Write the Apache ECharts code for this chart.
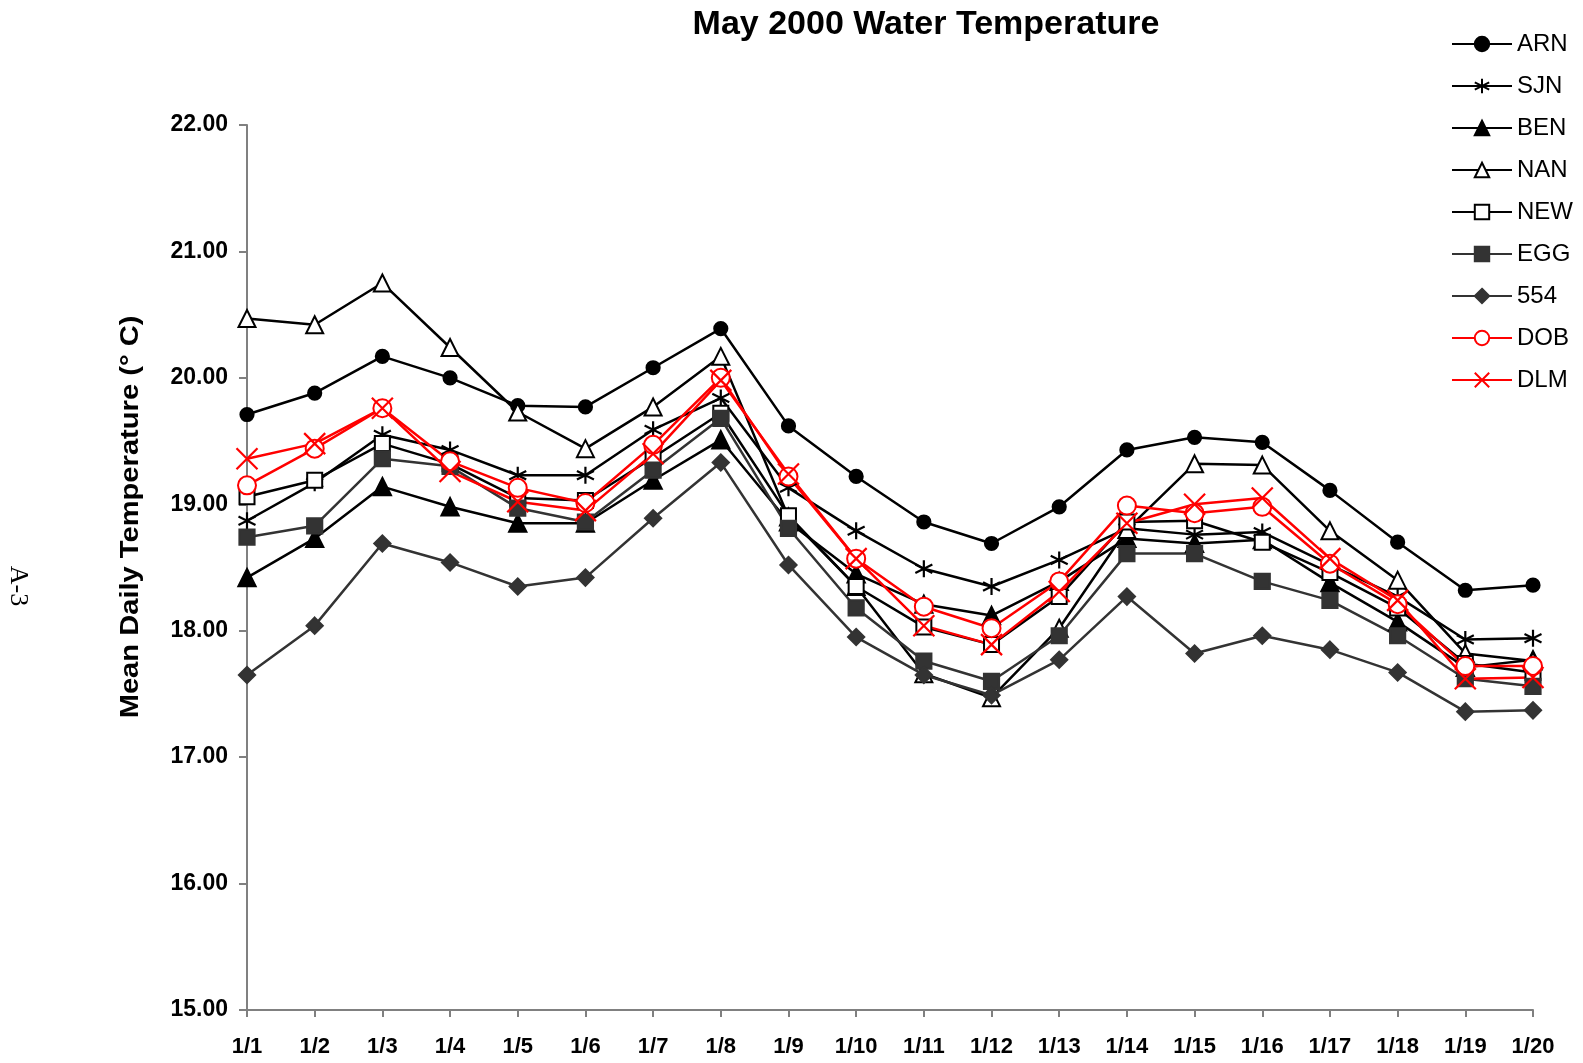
<!DOCTYPE html>
<html>
<head>
<meta charset="utf-8">
<script src="https://cdn.jsdelivr.net/npm/echarts@6/dist/echarts.min.js"></script>
<style>
  html, body { margin: 0; padding: 0; background: #fff; }
  #chart { width: 1583px; height: 1063px; }
</style>
</head>
<body>
<div id="chart"></div>
<script>
// days along the x axis
var days = ['1/1','1/2','1/3','1/4','1/5','1/6','1/7','1/8','1/9','1/10',
            '1/11','1/12','1/13','1/14','1/15','1/16','1/17','1/18','1/19','1/20'];

// mean daily temperature per station (deg C)
var arn = [19.71, 19.88, 20.17, 20.00, 19.78, 19.77, 20.08, 20.39, 19.62, 19.22, 18.86, 18.69, 18.98, 19.43, 19.53, 19.49, 19.11, 18.70, 18.32, 18.36];
var sjn = [18.87, 19.17, 19.55, 19.43, 19.23, 19.23, 19.59, 19.84, 19.13, 18.79, 18.49, 18.35, 18.56, 18.81, 18.76, 18.78, 18.52, 18.27, 17.93, 17.94];
var ben = [18.42, 18.73, 19.14, 18.98, 18.85, 18.85, 19.19, 19.51, 18.86, 18.45, 18.21, 18.12, 18.39, 18.73, 18.69, 18.72, 18.38, 18.07, 17.71, 17.77];
var nan = [20.47, 20.42, 20.75, 20.24, 19.73, 19.44, 19.77, 20.17, 18.90, 18.35, 17.66, 17.47, 18.02, 18.80, 19.32, 19.31, 18.79, 18.40, 17.82, 17.76];
var neww = [19.06, 19.19, 19.48, 19.32, 19.05, 19.03, 19.37, 19.72, 18.91, 18.35, 18.03, 17.89, 18.27, 18.86, 18.87, 18.70, 18.46, 18.18, 17.74, 17.67];
var egg = [18.74, 18.83, 19.36, 19.30, 18.97, 18.86, 19.27, 19.68, 18.81, 18.18, 17.76, 17.60, 17.96, 18.61, 18.61, 18.39, 18.24, 17.96, 17.62, 17.56];
var s554 = [17.65, 18.04, 18.69, 18.54, 18.35, 18.42, 18.89, 19.33, 18.52, 17.95, 17.65, 17.49, 17.77, 18.27, 17.82, 17.96, 17.85, 17.67, 17.36, 17.37];
var dob = [19.15, 19.44, 19.76, 19.34, 19.13, 19.01, 19.47, 20.00, 19.22, 18.57, 18.19, 18.02, 18.39, 18.99, 18.93, 18.98, 18.53, 18.21, 17.72, 17.72];
var dlm = [19.36, 19.48, 19.76, 19.26, 19.02, 18.95, 19.40, 19.98, 19.24, 18.57, 18.04, 17.89, 18.31, 18.85, 19.00, 19.05, 18.57, 18.24, 17.62, 17.63];

var asterisk = 'path://M5,0L5,10M0.67,2.5L9.33,7.5M0.67,7.5L9.33,2.5';
var cross = 'path://M0,0L10,10M0,10L10,0';

function line(name, data, color, symbol, size) {
  return {
    name: name,
    type: 'line',
    data: data,
    symbol: symbol,
    symbolSize: size,
    showAllSymbol: true,
    lineStyle: { color: color, width: 2.5 },
    itemStyle: { color: color, borderColor: color, borderWidth: 2.2 },
    emphasis: { disabled: true }
  };
}

var myChart = echarts.init(document.getElementById('chart'));

var option = {
  animation: false,
  backgroundColor: '#fff',
  title: {
    text: 'May 2000 Water Temperature',
    left: 921,
    top: 3,
    textAlign: 'center',
    textStyle: { fontFamily: 'Liberation Sans', fontWeight: 'bold', fontSize: 34, color: '#000' }
  },
  legend: {
    orient: 'vertical',
    left: 1446,
    top: 26,
    itemWidth: 60,
    itemHeight: 18,
    itemGap: 16,
    textStyle: { fontFamily: 'Liberation Sans', fontSize: 24, lineHeight: 26, color: '#000' }
  },
  grid: { left: 247, right: 50, top: 125, bottom: 53 },
  xAxis: {
    type: 'category',
    data: days,
    boundaryGap: false,
    axisLine: { lineStyle: { color: '#808080', width: 2 } },
    axisTick: { length: 7, lineStyle: { color: '#808080', width: 2 } },
    axisLabel: {
      interval: 0, margin: 26, color: '#000',
      fontFamily: 'Liberation Sans', fontWeight: 'bold', fontSize: 22
    },
    splitLine: { show: false }
  },
  yAxis: {
    type: 'value',
    min: 15,
    max: 22,
    interval: 1,
    axisLine: { show: true, lineStyle: { color: '#808080', width: 2 } },
    axisTick: { show: true, length: 8, lineStyle: { color: '#808080', width: 2 } },
    axisLabel: {
      margin: 19, color: '#000',
      fontFamily: 'Liberation Sans', fontWeight: 'bold', fontSize: 23,
      formatter: function (v) { return v.toFixed(2); }
    },
    splitLine: { show: false }
  },
  graphic: [
    {
      type: 'text',
      x: 131, y: 517,
      rotation: Math.PI / 2,
      scaleX: 1.12,
      style: {
        text: 'Mean Daily Temperature (° C)',
        fontFamily: 'Liberation Sans', fontWeight: 'bold', fontSize: 26,
        fill: '#000', align: 'center', verticalAlign: 'middle'
      }
    },
    {
      type: 'text',
      x: 18, y: 586,
      rotation: -Math.PI / 2,
      style: {
        text: 'A-3',
        fontFamily: 'Liberation Serif', fontSize: 26,
        fill: '#000', align: 'center', verticalAlign: 'middle'
      }
    }
  ],
  series: [
    line('ARN', arn, '#000', 'circle', 13),
    line('SJN', sjn, '#000', asterisk, 17),
    line('BEN', ben, '#000', 'triangle', 17),
    line('NAN', nan, '#000', 'emptyTriangle', 17),
    line('NEW', neww, '#000', 'emptyRect', 15),
    line('EGG', egg, '#333', 'rect', 15),
    line('554', s554, '#333', 'diamond', 16),
    line('DOB', dob, '#f00', 'emptyCircle', 18),
    line('DLM', dlm, '#f00', cross, 21)
  ]
};

myChart.setOption(option);
window.addEventListener('resize', function () {
  myChart.resize();
});
</script>
</body>
</html>
